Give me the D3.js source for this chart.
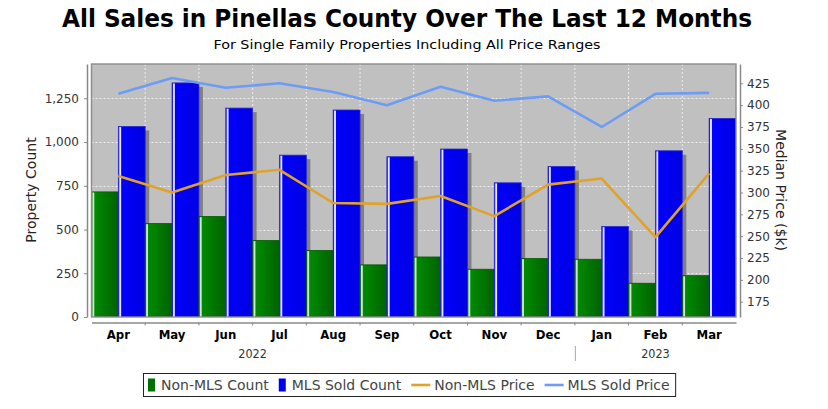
<!DOCTYPE html>
<html>
<head>
<meta charset="utf-8">
<script src="https://cdn.jsdelivr.net/npm/d3@7/dist/d3.min.js"></script>
<style>
  html, body { margin: 0; padding: 0; background: #fff; }
  svg { display: block; }
  .cond { font-family: "DejaVu Sans Condensed", "DejaVu Sans", sans-serif; font-stretch: condensed; }
  .sans { font-family: "DejaVu Sans", sans-serif; }
</style>
</head>
<body>
<svg id="chart" width="828" height="409"></svg>
<script>
// chart data
var months = ["Apr", "May", "Jun", "Jul", "Aug", "Sep", "Oct", "Nov", "Dec", "Jan", "Feb", "Mar"];
var nonMlsCount = [715, 534, 574, 437, 380, 298, 343, 273, 334, 330, 193, 236];
var mlsSoldCount = [1089, 1338, 1194, 925, 1183, 916, 960, 767, 860, 517, 950, 1135];
var nonMlsPrice = [319, 300, 320, 326, 288, 287, 296, 273, 309, 316, 249, 322];
var mlsSoldPrice = [413, 431, 420, 425, 415, 400, 421, 405, 410, 375, 413, 414];
var countTicks = [0, 250, 500, 750, 1000, 1250];
var priceTicks = [175, 200, 225, 250, 275, 300, 325, 350, 375, 400, 425];
// year bands, as month indexes relative to Apr 2022 (2022 starts before the chart)
var years = ["2022", "2023"];
var yearFrom = [-3, 9];
var yearTo = [8, 11];
var seriesNames = ["Non-MLS Count", "MLS Sold Count", "Non-MLS Price", "MLS Sold Price"];

var plotL = 91.5, plotR = 736, plotT = 64, plotB = 317;

var svg = d3.select("#chart");
var defs = svg.append("defs");

defs.append("clipPath").attr("id", "plotClip")
    .append("rect")
        .attr("x", plotL).attr("y", plotT)
        .attr("width", plotR - plotL).attr("height", plotB - plotT);

var gGreen = defs.append("linearGradient").attr("id", "gradGreen");
gGreen.append("stop").attr("offset", "0%").attr("stop-color", "#009000");
gGreen.append("stop").attr("offset", "100%").attr("stop-color", "#006200");
var gBlue = defs.append("linearGradient").attr("id", "gradBlue");
gBlue.append("stop").attr("offset", "0%").attr("stop-color", "#0000ff");
gBlue.append("stop").attr("offset", "100%").attr("stop-color", "#0000e2");

var x = d3.scaleBand().domain(months).range([plotL, plotR]).padding(0);
var bw = x.bandwidth();
var xs = d3.scaleBand().domain(["nonMls", "mls"]).range([0, bw]).padding(0);
var yL = d3.scaleLinear().domain([0, 1446]).range([plotB, plotT]);
var yR = d3.scaleLinear().domain([157.5, 447.1]).range([plotB, plotT]);

// title
svg.append("text")
    .attr("class", "cond")
    .attr("x", 407).attr("y", 27)
    .attr("text-anchor", "middle")
    .attr("font-size", 24).attr("font-weight", "bold")
    .attr("textLength", 690).attr("lengthAdjust", "spacingAndGlyphs")
    .attr("fill", "#000")
    .text("All Sales in Pinellas County Over The Last 12 Months");

svg.append("text")
    .attr("class", "cond")
    .attr("x", 407).attr("y", 49)
    .attr("text-anchor", "middle")
    .attr("font-size", 13)
    .attr("textLength", 387).attr("lengthAdjust", "spacingAndGlyphs")
    .attr("fill", "#000")
    .text("For Single Family Properties Including All Price Ranges");

// plot background
svg.append("rect")
    .attr("x", plotL).attr("y", plotT)
    .attr("width", plotR - plotL).attr("height", plotB - plotT)
    .attr("fill", "#c0c0c0");

// gridlines
var grid = svg.append("g").attr("stroke", "#ececec").attr("stroke-width", 1).attr("stroke-dasharray", "2,2");
grid.selectAll("line.h")
    .data(countTicks.filter(function(d) { return d > 0; }))
    .enter().append("line")
        .attr("x1", plotL).attr("x2", plotR)
        .attr("y1", function(d) { return Math.round(yL(d)) + 0.5; })
        .attr("y2", function(d) { return Math.round(yL(d)) + 0.5; });
grid.selectAll("line.v")
    .data(months.slice(1))
    .enter().append("line")
        .attr("x1", function(d) { return x(d); })
        .attr("x2", function(d) { return x(d); })
        .attr("y1", plotT).attr("y2", plotB);

// bars (per category: shadow, bar, shadow, bar, like the renderer does)
var bars = svg.append("g").attr("clip-path", "url(#plotClip)");
months.forEach(function(m, i) {
    var items = [
        {key: "nonMls", v: nonMlsCount[i], fill: "url(#gradGreen)", edge: "#005a00", hi: "#cfe5cf"},
        {key: "mls", v: mlsSoldCount[i], fill: "url(#gradBlue)", edge: "#2a2ad0", hi: "#e4e4ff"}
    ];
    items.forEach(function(it) {
        var bx = x(m) + xs(it.key), by = yL(it.v), bwid = xs.bandwidth(), bh = plotB - by;
        bars.append("rect")
            .attr("x", bx + 4).attr("y", by + 4)
            .attr("width", bwid).attr("height", bh)
            .attr("fill", "#808080");
        bars.append("rect")
            .attr("x", bx).attr("y", by)
            .attr("width", bwid).attr("height", bh)
            .attr("fill", it.fill)
            .attr("stroke", it.edge).attr("stroke-width", 0.8);
        bars.append("rect")
            .attr("x", bx + 0.9).attr("y", by + 0.6)
            .attr("width", 1.9).attr("height", bh - 0.6)
            .attr("fill", it.hi);
    });
});

// price lines
var line = d3.line()
    .x(function(d, i) { return x(months[i]) + bw / 2; })
    .y(function(d) { return yR(d); });

svg.append("path")
    .datum(nonMlsPrice)
    .attr("d", line)
    .attr("fill", "none").attr("stroke", "#dfa22b").attr("stroke-width", 2.6)
    .attr("stroke-linejoin", "round");
svg.append("path")
    .datum(mlsSoldPrice)
    .attr("d", line)
    .attr("fill", "none").attr("stroke", "#6d9cf5").attr("stroke-width", 2.6)
    .attr("stroke-linejoin", "round");

// plot outline
svg.append("rect")
    .attr("x", plotL).attr("y", plotT)
    .attr("width", plotR - plotL).attr("height", plotB - plotT)
    .attr("fill", "none").attr("stroke", "#8c8c8c").attr("stroke-width", 1.4);

// left axis
var axL = svg.append("g")
    .attr("class", "sans")
    .attr("transform", "translate(87,0)")
    .call(d3.axisLeft(yL).tickValues(countTicks).tickFormat(d3.format(","))
        .tickSizeInner(3).tickSizeOuter(0).tickPadding(5));
axL.select(".domain").attr("stroke", "#888").attr("stroke-width", 1.5);
axL.selectAll(".tick line").attr("stroke", "#888");
axL.selectAll("text").attr("font-size", 12).attr("fill", "#333").attr("font-family", null);

// right axis
var axR = svg.append("g")
    .attr("class", "sans")
    .attr("transform", "translate(740,0)")
    .call(d3.axisRight(yR).tickValues(priceTicks)
        .tickSizeInner(3).tickSizeOuter(0).tickPadding(4));
axR.select(".domain").attr("stroke", "#888").attr("stroke-width", 1.5);
axR.selectAll(".tick line").attr("stroke", "#888");
axR.selectAll("text").attr("font-size", 12).attr("fill", "#333").attr("font-family", null);

// bottom (period) axis
var axisY = 322.5;
var axB = svg.append("g")
    .attr("class", "cond")
    .attr("transform", "translate(0," + axisY + ")")
    .call(d3.axisBottom(x).tickSize(0).tickPadding(7));
axB.select(".domain").attr("stroke", "#888").attr("stroke-width", 1.5);
axB.selectAll("text").attr("font-size", 13).attr("font-weight", "bold").attr("fill", "#000").attr("font-family", null);
axB.selectAll("line.sep")
    .data(months.slice(1))
    .enter().append("line")
        .attr("x1", function(d) { return x(d); })
        .attr("x2", function(d) { return x(d); })
        .attr("y1", 0).attr("y2", 3)
        .attr("stroke", "#888");

var yearG = svg.append("g").attr("class", "cond");
years.forEach(function(yr, i) {
    var x0 = plotL + yearFrom[i] * bw, x1 = plotL + (yearTo[i] + 1) * bw;
    yearG.append("text")
        .attr("x", (x0 + x1) / 2).attr("y", 358)
        .attr("text-anchor", "middle")
        .attr("font-size", 12.5).attr("fill", "#333")
        .text(yr);
    if (i > 0) {
        yearG.append("line")
            .attr("x1", x0 + 0.5).attr("x2", x0 + 0.5)
            .attr("y1", 346).attr("y2", 361)
            .attr("stroke", "#aaa");
    }
});

// axis titles
svg.append("text")
    .attr("class", "sans")
    .attr("transform", "translate(36,190) rotate(-90)")
    .attr("text-anchor", "middle")
    .attr("font-size", 14).attr("fill", "#222")
    .text("Property Count");
svg.append("text")
    .attr("class", "sans")
    .attr("transform", "translate(776,190) rotate(90)")
    .attr("text-anchor", "middle")
    .attr("font-size", 14).attr("fill", "#222")
    .text("Median Price ($k)");

// legend
var legend = svg.append("g").attr("class", "sans");
var symbols = [
    {type: "box", color: "#007000"},
    {type: "box", color: "#0000ee"},
    {type: "line", color: "#dfa22b"},
    {type: "line", color: "#6d9cf5"}
];
var lx = 148, baseY = 390;
seriesNames.forEach(function(name, i) {
    var s = symbols[i];
    if (s.type === "box") {
        legend.append("rect")
            .attr("x", lx).attr("y", baseY - 11.5)
            .attr("width", 7).attr("height", 13)
            .attr("fill", s.color);
        lx += 13;
    } else {
        legend.append("line")
            .attr("x1", lx).attr("x2", lx + 19)
            .attr("y1", baseY - 5).attr("y2", baseY - 5)
            .attr("stroke", s.color).attr("stroke-width", 2.6);
        lx += 23;
    }
    var t = legend.append("text")
        .attr("x", lx).attr("y", baseY)
        .attr("font-size", 14).attr("fill", "#444")
        .text(name);
    lx += t.node().getComputedTextLength() + 10;
});
legend.insert("rect", ":first-child")
    .attr("x", 143.5).attr("y", 373.5)
    .attr("width", lx - 143.5 - 4).attr("height", 23)
    .attr("fill", "#fff").attr("stroke", "#222").attr("stroke-width", 1);
</script>
</body>
</html>
